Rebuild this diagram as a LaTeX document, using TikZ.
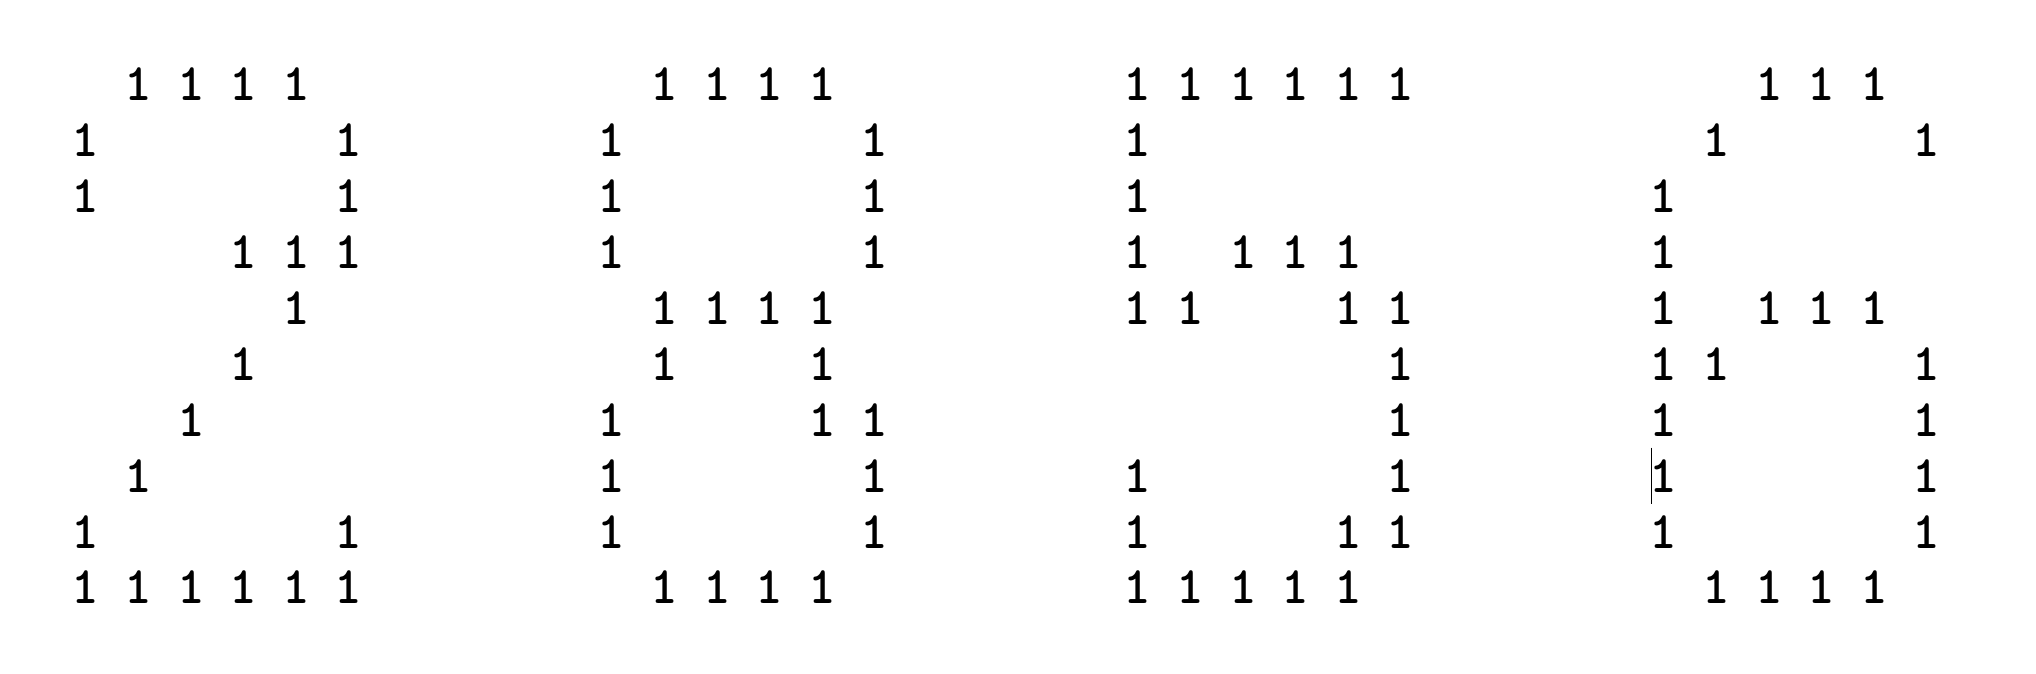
\documentclass[tikz,border=0pt]{standalone}
\usepackage{tikz}

\tikzset{one/.style={inner sep=0pt,text=black,font=\ttfamily\bfseries\fontsize{15pt}{18pt}\selectfont}}

\begin{document}
\begin{tikzpicture}[x=0.526cm,y=-0.559cm]

        \useasboundingbox (-1.629,-1.510) rectangle (37.078,10.547);

        \foreach \c/\r in {1/0,2/0,3/0,4/0,0/1,5/1,0/2,5/2,3/3,4/3,5/3,4/4,3/5,2/6,1/7,0/8,5/8,0/9,1/9,2/9,3/9,4/9,5/9}
            \node[one] (two-\r-\c) at (\c,\r) {1};

        \foreach \c/\r in {1/0,2/0,3/0,4/0,0/1,5/1,0/2,5/2,0/3,5/3,1/4,2/4,3/4,4/4,1/5,4/5,0/6,4/6,5/6,0/7,5/7,0/8,5/8,1/9,2/9,3/9,4/9}
            \node[one] (eight-\r-\c) at (\c+10,\r) {1};

        \foreach \c/\r in {0/0,1/0,2/0,3/0,4/0,5/0,0/1,0/2,0/3,2/3,3/3,4/3,0/4,1/4,4/4,5/4,5/5,5/6,0/7,5/7,0/8,4/8,5/8,0/9,1/9,2/9,3/9,4/9}
            \node[one] (five-\r-\c) at (\c+20,\r) {1};

        \foreach \c/\r in {2/0,3/0,4/0,1/1,5/1,0/2,0/3,0/4,2/4,3/4,4/4,0/5,1/5,5/5,0/6,5/6,0/7,5/7,0/8,5/8,1/9,2/9,3/9,4/9}
            \node[one] (six-\r-\c) at (\c+30,\r) {1};

        \draw[line width=0.4pt] ([xshift=-1.2mm,yshift=2.8mm]six-7-0.center) -- ([xshift=-1.2mm,yshift=-2.8mm]six-7-0.center);
\end{tikzpicture}
\end{document}
